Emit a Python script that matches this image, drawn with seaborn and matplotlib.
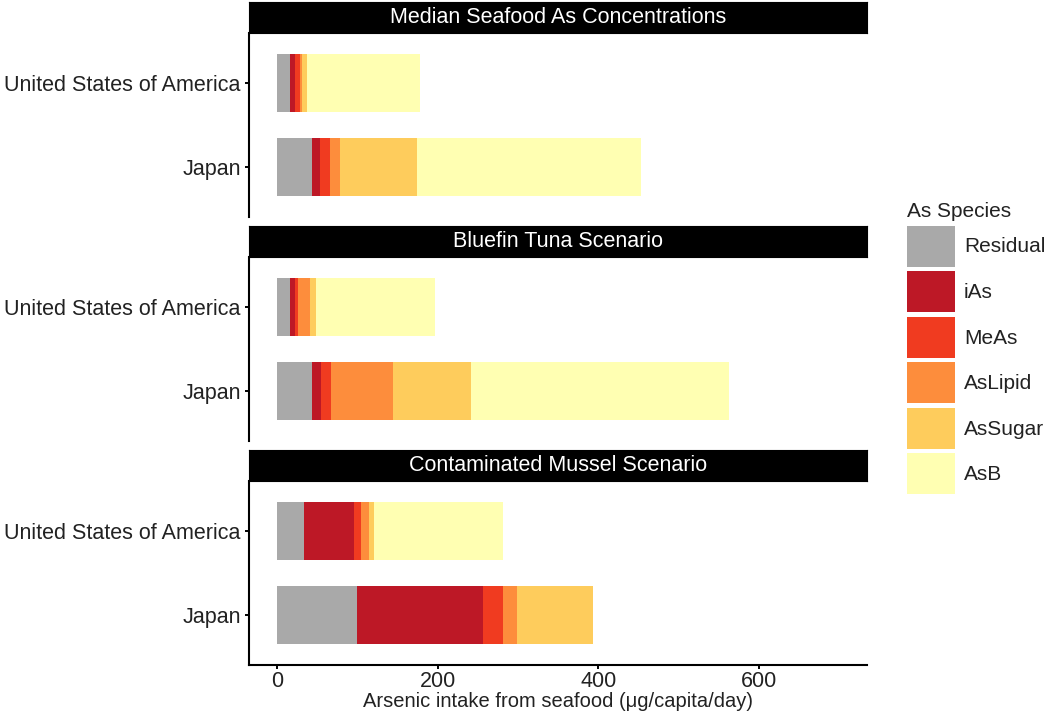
import numpy as np
import pandas as pd
import matplotlib
matplotlib.use("Agg")
import matplotlib.pyplot as plt
import matplotlib.patches as mpatches
import seaborn as sns

# ── Data ──────────────────────────────────────────────────────────────────────
SCENARIOS = ['Median Seafood As Concentrations',
             'Bluefin Tuna Scenario',
             'Contaminated Mussel Scenario']
COUNTRIES = ['United States of America', 'Japan']
SPECIES = ['Residual', 'iAs', 'MeAs', 'AsLipid', 'AsSugar', 'AsB']

# intake (ug/capita/day) per species, rows ordered scenario x country
residual = [16, 44, 16, 44, 34, 99]
ias      = [6, 10, 6, 11, 62, 158]
meas     = [6, 12, 4, 12, 9, 25]
aslipid  = [3, 12, 15, 78, 9, 17]
assugar  = [6, 96, 8, 96, 7, 95]
asb      = [141, 280, 148, 322, 160, 0]

X_TICKS = [0, 200, 400, 600]

# ── Style ─────────────────────────────────────────────────────────────────────
COLORS = ['#A9A9A9', '#BD1826', '#F03B20', '#FD8D3C', '#FECC5C', '#FFFFB2']
FONT = 'Liberation Sans'
TXT = '#222222'
FS = 15.5

sns.set_style('white')
plt.rcParams['font.family'] = [FONT, 'DejaVu Sans']

rows = []
for k, (scen, ctry) in enumerate([(s, c) for s in SCENARIOS for c in COUNTRIES]):
    for sp, vals in zip(SPECIES, [residual, ias, meas, aslipid, assugar, asb]):
        rows.append({'Scenario': scen, 'Country': ctry, 'Species': sp, 'Intake': vals[k]})
df = pd.DataFrame(rows)

W, H = 1050, 715
L, R = 249, 867
fig = plt.figure(figsize=(W / 100, H / 100), dpi=100)


def px_axes(top, bottom):
    return fig.add_axes([L / W, 1 - bottom / H, (R - L) / W, (bottom - top) / H])


strip_tops = [2, 226, 450]
strip_h, panel_h = 31, 184

for i, scen in enumerate(SCENARIOS):
    st = strip_tops[i]
    ax = px_axes(st + strip_h, st + strip_h + panel_h)

    sub = (df[df['Scenario'] == scen]
           .pivot(index='Country', columns='Species', values='Intake')
           .loc[COUNTRIES, SPECIES])
    cum = sub.cumsum(axis=1).reset_index()

    # stacked bars: draw cumulative totals from the outermost layer inwards
    for sp, col in reversed(list(zip(SPECIES, COLORS))):
        sns.barplot(data=cum, x=sp, y='Country', order=COUNTRIES, orient='h',
                    color=col, width=0.7, saturation=1, errorbar=None,
                    linewidth=0, ax=ax)

    ax.set_xlim(-35, 735)
    ax.set_ylim(1.6, -0.6)
    ax.set_xlabel('')
    ax.set_ylabel('')
    ax.set_xticks(X_TICKS)
    ax.spines[['top', 'right']].set_visible(False)
    ax.spines['left'].set_linewidth(1.5)
    ax.spines['left'].set_color('black')
    ax.tick_params(axis='y', length=3, width=1.4, color='black',
                   labelsize=FS, labelcolor=TXT, pad=3, left=True)
    if i < 2:
        ax.spines['bottom'].set_visible(False)
        ax.tick_params(axis='x', bottom=False, labelbottom=False)
    else:
        ax.spines['bottom'].set_linewidth(1.5)
        ax.spines['bottom'].set_color('black')
        ax.tick_params(axis='x', length=3, width=1.4, color='black',
                       labelsize=FS, labelcolor=TXT, pad=1.5, bottom=True)
        ax.set_xlabel('Arsenic intake from seafood (\u03bcg/capita/day)',
                      fontsize=14.5, color=TXT, labelpad=0)

    # facet strip
    sax = px_axes(st, st + strip_h)
    sax.set_facecolor('black')
    sax.set_xticks([])
    sax.set_yticks([])
    for s in sax.spines.values():
        s.set_color('black')
    sax.text(0.5, 0.5, scen, color='white', fontsize=FS,
             ha='center', va='center', transform=sax.transAxes)

# legend
handles = [mpatches.Patch(facecolor=c, edgecolor='none', label=s)
           for s, c in zip(SPECIES, COLORS)]
leg = fig.legend(handles=handles, title='As Species', loc='upper left',
                 bbox_to_anchor=(907 / W, 1 - 202 / H), frameon=False,
                 fontsize=15, title_fontsize=15, handlelength=2.31,
                 handleheight=2.65, labelspacing=0.22, handletextpad=0.43,
                 borderpad=0, borderaxespad=0, alignment='left')
for t in leg.get_texts():
    t.set_color(TXT)
leg.get_title().set_color(TXT)

fig.savefig('out.png', dpi=100)
plt.close(fig)
